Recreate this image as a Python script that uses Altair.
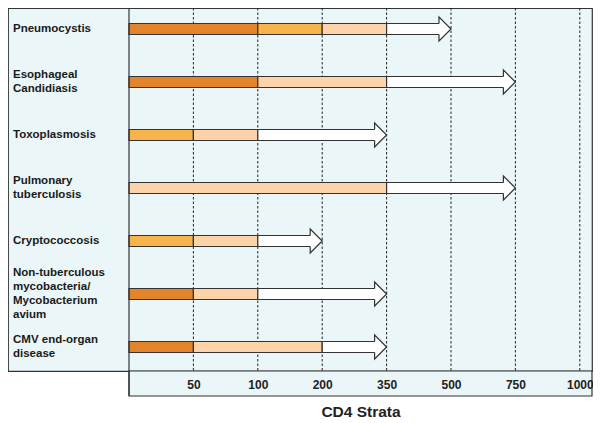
import altair as alt
import pandas as pd

# ---- data ----
diseases = [
    "Pneumocystis",
    "Esophageal\nCandidiasis",
    "Toxoplasmosis",
    "Pulmonary\ntuberculosis",
    "Cryptococcosis",
    "Non-tuberculous\nmycobacteria/\nMycobacterium\navium",
    "CMV end-organ\ndisease",
]
strata = ["", "50", "100", "200", "350", "500", "750", "1000"]
# coloured segments per disease: (start stratum, end stratum, shade)
segments = [
    [("", "100", "dark"), ("100", "200", "mid"), ("200", "350", "light")],
    [("", "100", "dark"), ("100", "350", "light")],
    [("", "50", "mid"), ("50", "100", "light")],
    [("", "350", "light")],
    [("", "50", "mid"), ("50", "100", "light")],
    [("", "50", "dark"), ("50", "100", "light")],
    [("", "50", "dark"), ("50", "200", "light")],
]
# white arrow per disease: (from stratum, to stratum)
arrows = [
    ("350", "500"),
    ("350", "750"),
    ("100", "350"),
    ("350", "750"),
    ("100", "200"),
    ("100", "350"),
    ("200", "350"),
]

shades = ["dark", "mid", "light"]
shade_colors = ["#E3832A", "#F8B44C", "#FDD4AA"]

# ---- tables ----
pos = {s: i for i, s in enumerate(strata)}
seg_rows = []
for r, segs in enumerate(segments):
    for a, b, sh in segs:
        seg_rows.append({"row": r, "x0": pos[a], "x1": pos[b], "shade": sh})
seg_df = pd.DataFrame(seg_rows)
arr_df = pd.DataFrame(
    [{"row": r, "x0": pos[a], "x1": pos[b]} for r, (a, b) in enumerate(arrows)]
)
lab_df = pd.DataFrame({
    "row": list(range(len(diseases))),
    "label": diseases,
    "nlines": [d.count("\n") + 1 for d in diseases],
})

# ---- geometry (pixels -> scale domains) ----
W, H = 584, 363
label_w = 121
step_x = 64.4
step_y = 53.0
first_y = 21.0
x_dom = [-label_w / step_x, (W - label_w) / step_x]
y_dom = [-first_y / step_y, (H - first_y) / step_y]
axis_box_bottom = y_dom[1] + 25 / step_y

xs = alt.Scale(domain=x_dom, nice=False, zero=False, padding=0)
ys = alt.Scale(domain=y_dom, nice=False, zero=False, reverse=True, padding=0)

BG = "#EAF6F8"
EDGE = "#333333"
LINE_H = 14

grid_df = pd.DataFrame({"x": list(range(1, len(strata))), "y": y_dom[0], "y2": y_dom[1]})
axisbox_df = pd.DataFrame({"x": [0.0], "x2": [x_dom[1]], "y": [y_dom[1]], "y2": [axis_box_bottom]})
sep_df = pd.DataFrame({"x": [0.0], "y": [y_dom[0]], "y2": [axis_box_bottom]})

x_axis = alt.Axis(
    values=list(range(1, len(strata))),
    labelExpr="['','50','100','200','350','500','750','1000'][datum.value]",
    grid=False,
    domain=False,
    ticks=False,
    tickSize=0,
    zindex=1,
    labelPadding=13,
    labelBaseline="middle",
    labelFont="Liberation Sans",
    labelFontWeight="bold",
    labelFontSize=12,
    labelColor="#222222",
    title="CD4 Strata",
    titleFont="Liberation Sans",
    titleFontWeight="bold",
    titleFontSize=15.5,
    titleColor="#222222",
    titleX=(label_w + W) / 2,
    titleY=40,
    titleBaseline="middle",
    titleAlign="center",
)

axis_box = alt.Chart(axisbox_df).mark_rect(
    fill=BG, stroke=EDGE, strokeWidth=1.2, clip=False
).encode(
    x=alt.X("x:Q", scale=xs, axis=x_axis),
    x2="x2:Q",
    y=alt.Y("y:Q", scale=ys, axis=None),
    y2="y2:Q",
)

grid = alt.Chart(grid_df).mark_rule(
    color="#222222", strokeWidth=1, strokeDash=[2.5, 2]
).encode(
    x=alt.X("x:Q", scale=xs),
    y=alt.Y("y:Q", scale=ys),
    y2="y2:Q",
)

sep = alt.Chart(sep_df).mark_rule(color=EDGE, strokeWidth=1.2, clip=False).encode(
    x=alt.X("x:Q", scale=xs),
    y=alt.Y("y:Q", scale=ys),
    y2="y2:Q",
)

bars = alt.Chart(seg_df).mark_bar(
    orient="horizontal", size=11, stroke=EDGE, strokeWidth=1.2
).encode(
    x=alt.X("x0:Q", scale=xs),
    x2="x1:Q",
    y=alt.Y("row:Q", scale=ys),
    color=alt.Color("shade:N", scale=alt.Scale(domain=shades, range=shade_colors), legend=None),
)

shafts = alt.Chart(arr_df).mark_bar(
    orient="horizontal", size=11, fill="white", stroke=EDGE, strokeWidth=1.2, x2Offset=-8
).encode(
    x=alt.X("x0:Q", scale=xs),
    x2="x1:Q",
    y=alt.Y("row:Q", scale=ys),
)

head_path = "M -1.0,-0.46 L -1.0,-1 L 0,0 L -1.0,1 L -1.0,0.46"
heads = alt.Chart(arr_df).mark_point(
    shape=head_path, size=576, filled=True, fill="white", stroke=EDGE,
    strokeWidth=1.2, opacity=1, strokeJoin="miter"
).encode(
    x=alt.X("x1:Q", scale=xs),
    y=alt.Y("row:Q", scale=ys),
)

label_layers = []
for n in sorted(set(lab_df["nlines"])):
    label_layers.append(
        alt.Chart(lab_df[lab_df["nlines"] == n]).mark_text(
            align="left", baseline="middle", lineBreak="\n", lineHeight=LINE_H,
            dy=-(n - 1) * LINE_H / 2,
            font="Liberation Sans", fontWeight="bold", fontSize=11.5, color="#1A1A1A"
        ).encode(
            x=alt.value(5),
            y=alt.Y("row:Q", scale=ys),
            text="label:N",
        )
    )

chart = alt.layer(axis_box, grid, bars, shafts, heads, sep, *label_layers).properties(
    width=W, height=H,
    autosize=alt.AutoSizeParams(type="none"),
    padding={"left": 0, "top": 0, "right": 1, "bottom": 47},
).configure_view(
    fill=BG, stroke=EDGE, strokeWidth=1.2
)

chart.save("out.html", embed_options={"renderer": "svg", "actions": False})
